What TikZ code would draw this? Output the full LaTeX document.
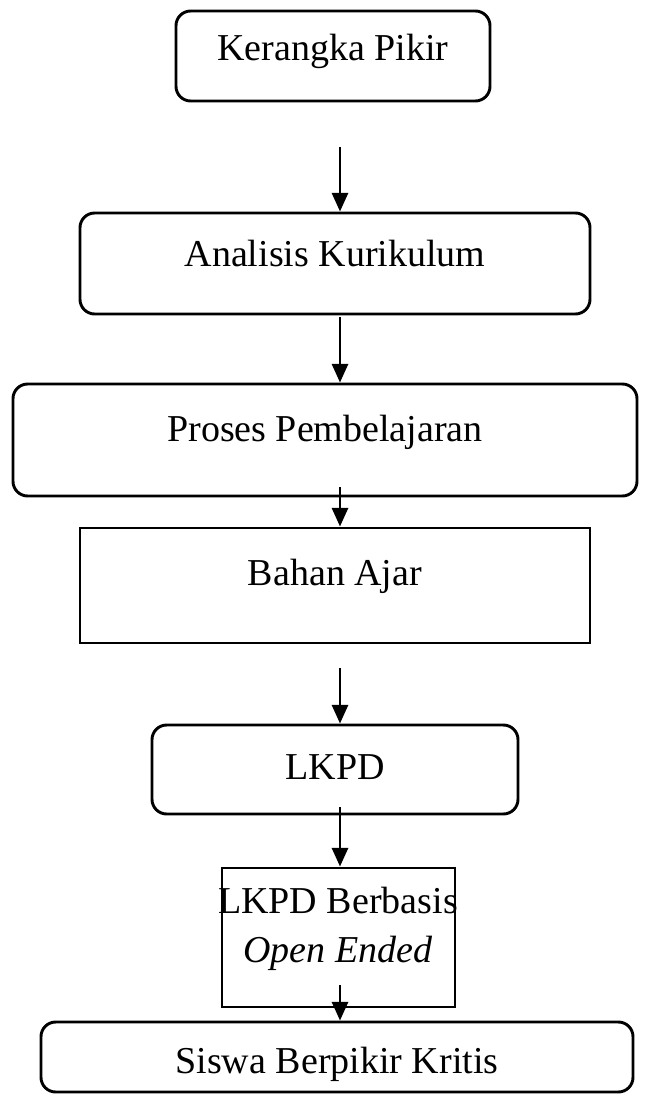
\documentclass[tikz,border=0pt]{standalone}
\usepackage{fontspec}
\setmainfont{Liberation Serif}
\usetikzlibrary{arrows.meta,fit}
\tikzset{
  rbox/.style={draw, line width=2.2pt, rounded corners=11pt, inner sep=0pt},
  sbox/.style={draw, line width=2.2pt, inner sep=0pt},
  txt/.style={font=\fontsize{28.5}{36}\selectfont, inner sep=0pt, anchor=base},
  arr/.style={line width=2.2pt, -{Triangle[length=14pt,width=12pt]}}
}
\begin{document}
\begin{tikzpicture}[x=0.75pt,y=-0.75pt]
\useasboundingbox (0,0) rectangle (646,1104);
% boxes
\node [rbox, fit={(176,11) (490,101)}] (kp) {};
\node [rbox, fit={(80,213) (590,314)}] (ak) {};
\node [rbox, fit={(13,384) (637,496)}] (pp) {};
\node [sbox, fit={(80,528) (590,643)}] (ba) {};
\node [rbox, fit={(152,725) (518,814)}] (lk) {};
\node [sbox, fit={(222,868) (455,1007)}] (lo) {};
\node [rbox, fit={(41,1022) (633,1092)}] (sb) {};
% texts
\node [txt] (tkp) at (333,60) {Kerangka Pikir};
\node [txt] (tak) at (335,266) {Analisis Kurikulum};
\node [txt] (tpp) at (325,441) {Proses Pembelajaran};
\node [txt] (tba) at (335,585) {Bahan Ajar};
\node [txt] (tlk) at (335,779) {LKPD};
\node [txt] (tlo) at (338,913) {LKPD Berbasis};
\node [txt] (tlo2) at (338,962) {\textit{Open Ended}};
\node [txt] (tsb) at (337,1073) {Siswa Berpikir Kritis};
% arrows
\coordinate (a1) at (340,147);
\coordinate (a2) at (340,317);
\coordinate (a3) at (340,487);
\coordinate (a4) at (340,668);
\coordinate (a5) at (340,807);
\coordinate (a6) at (340,985);
\draw [arr] (a1) -- (a1 |- ak.north);
\draw [arr] (a2) -- (a2 |- pp.north);
\draw [arr] (a3) -- (a3 |- ba.north);
\draw [arr] (a4) -- (a4 |- lk.north);
\draw [arr] (a5) -- (a5 |- lo.north);
\draw [arr] (a6) -- (a6 |- sb.north);
\end{tikzpicture}
\end{document}
